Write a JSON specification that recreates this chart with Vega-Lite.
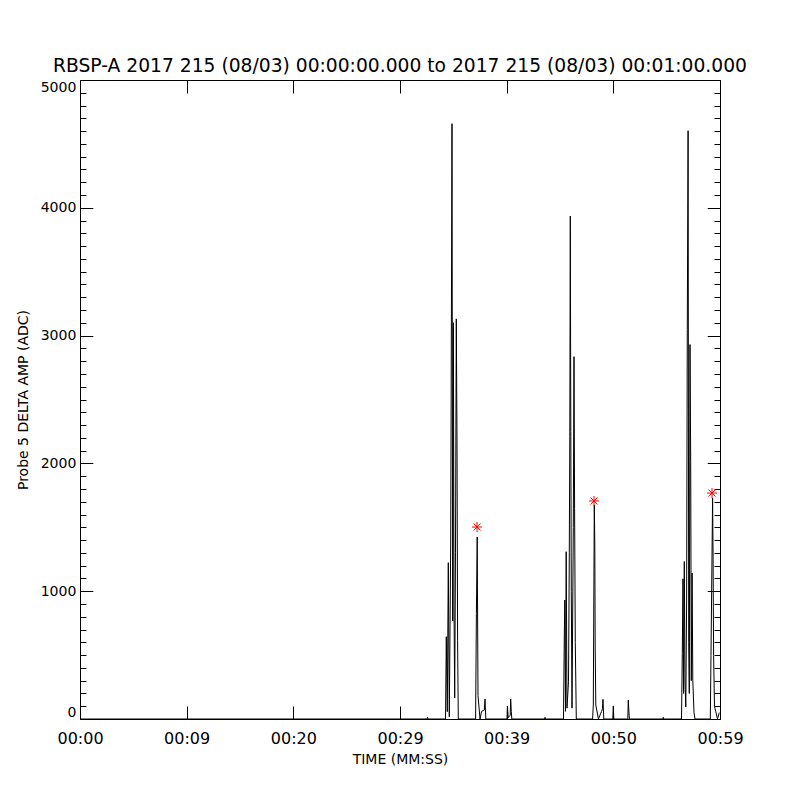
{
  "$schema": "https://vega.github.io/schema/vega-lite/v6.json",
  "width": 640,
  "height": 639,
  "autosize": {"type": "none"},
  "padding": {"left": 80, "top": 80, "right": 80, "bottom": 81},
  "background": "white",
  "config": {
    "view": {"stroke": "black", "strokeWidth": 1},
    "font": "DejaVu Sans",
    "axis": {"labelColor": "black", "titleColor": "black", "tickColor": "black", "tickWidth": 1, "tickRound": true, "labelFont": "DejaVu Sans", "titleFont": "DejaVu Sans", "titleFontWeight": "normal", "grid": false, "domain": false, "zindex": 1}
  },
  "title": {"text": "RBSP-A 2017 215 (08/03) 00:00:00.000 to 2017 215 (08/03) 00:01:00.000", "fontSize": 18.7, "fontWeight": "normal", "font": "DejaVu Sans", "color": "black", "offset": 4, "anchor": "middle"},
  "resolve": {"axis": {"x": "independent", "y": "independent"}},
  "layer": [
    {
      "data": {"values": [
        {"t":0,"v":0},{"t":32.531,"v":0},{"t":32.578,"v":13},{"t":32.625,"v":0},{"t":34.031,"v":0},
        {"t":34.266,"v":0},{"t":34.341,"v":644},{"t":34.434,"v":57},{"t":34.528,"v":1223},{"t":34.622,"v":18},{"t":34.753,"v":1377},{"t":34.875,"v":4658},{"t":34.941,"v":767},{"t":35.006,"v":3101},{"t":35.063,"v":886},{"t":35.128,"v":164},{"t":35.203,"v":1300},{"t":35.278,"v":3131},{"t":35.344,"v":2169},{"t":35.4,"v":612},{"t":35.466,"v":0},
        {"t":37.088,"v":0},{"t":37.163,"v":825},{"t":37.238,"v":1424},{"t":37.313,"v":184},{"t":37.5,"v":0},{"t":37.65,"v":60},{"t":37.903,"v":70},{"t":37.969,"v":156},{"t":38.044,"v":0},
        {"t":40.031,"v":0},{"t":40.069,"v":102},{"t":40.144,"v":10},{"t":40.331,"v":30},{"t":40.378,"v":156},{"t":40.434,"v":60},{"t":40.481,"v":0},
        {"t":43.547,"v":0},{"t":43.594,"v":13},{"t":43.641,"v":0},
        {"t":45.328,"v":0},{"t":45.403,"v":650},{"t":45.45,"v":931},{"t":45.516,"v":60},{"t":45.581,"v":1309},{"t":45.656,"v":85},{"t":45.797,"v":292},{"t":45.872,"v":1300},{"t":45.919,"v":2209},{"t":45.966,"v":3936},{"t":46.013,"v":2248},{"t":46.059,"v":1000},{"t":46.125,"v":85},{"t":46.247,"v":1500},{"t":46.313,"v":2835},{"t":46.369,"v":1649},{"t":46.434,"v":600},{"t":46.528,"v":0},
        {"t":48.056,"v":0},{"t":48.122,"v":110},{"t":48.216,"v":1675},{"t":48.263,"v":1361},{"t":48.3,"v":555},{"t":48.356,"v":110},{"t":48.6,"v":0},{"t":48.9,"v":60},{"t":48.975,"v":80},{"t":49.031,"v":154},{"t":49.106,"v":0},
        {"t":49.95,"v":0},{"t":49.997,"v":102},{"t":50.044,"v":0},
        {"t":51.356,"v":0},{"t":51.403,"v":149},{"t":51.45,"v":70},{"t":51.506,"v":0},
        {"t":54.638,"v":0},{"t":54.684,"v":13},{"t":54.731,"v":0},
        {"t":56.391,"v":0},{"t":56.466,"v":512},{"t":56.531,"v":1097},{"t":56.588,"v":200},{"t":56.653,"v":1232},{"t":56.719,"v":290},{"t":56.794,"v":94},{"t":56.869,"v":900},{"t":56.934,"v":3050},{"t":57.009,"v":4603},{"t":57.066,"v":600},{"t":57.122,"v":200},{"t":57.188,"v":2930},{"t":57.253,"v":2013},{"t":57.309,"v":300},{"t":57.384,"v":1142},{"t":57.45,"v":300},{"t":57.563,"v":50},{"t":57.656,"v":0},
        {"t":59.091,"v":0},{"t":59.156,"v":497},{"t":59.306,"v":1729},{"t":59.353,"v":1247},{"t":59.4,"v":497},{"t":59.484,"v":100},{"t":59.766,"v":0},{"t":59.934,"v":50}
      ]},
      "mark": {"type": "line", "color": "black", "strokeWidth": 1, "clip": true, "interpolate": "linear"},
      "encoding": {
        "x": {"field": "t", "type": "quantitative", "scale": {"domain": [0, 60], "nice": false, "zero": false},
          "axis": {"orient": "bottom", "values": [0, 10, 20, 30, 40, 50, 60], "tickSize": -13, "labelPadding": 24, "labelFlush": false, "labelFontSize": 16, "labelOverlap": false,
            "labelExpr": "datum.value == 0 ? '00:00' : datum.value == 10 ? '00:09' : datum.value == 20 ? '00:20' : datum.value == 30 ? '00:29' : datum.value == 40 ? '00:39' : datum.value == 50 ? '00:50' : '00:59'",
            "title": "TIME (MM:SS)", "titleFontSize": 14, "titlePadding": 6}},
        "y": {"field": "v", "type": "quantitative", "scale": {"domain": [0, 5000], "nice": false},
          "axis": {"orient": "left", "values": [0,100,200,300,400,500,600,700,800,900,1000,1100,1200,1300,1400,1500,1600,1700,1800,1900,2000,2100,2200,2300,2400,2500,2600,2700,2800,2900,3000,3100,3200,3300,3400,3500,3600,3700,3800,3900,4000,4100,4200,4300,4400,4500,4600,4700,4800,4900,5000],
            "tickSize": -12.8, "tickDash": {"condition": {"test": "datum.value % 1000 !== 0", "value": [6, 30]}, "value": []},
            "format": "d", "labelPadding": 17, "labelFontSize": 14, "labelOverlap": false, "labelFlush": true,
            "labelExpr": "datum.value % 1000 === 0 ? datum.label : ''",
            "title": "Probe 5 DELTA AMP (ADC)", "titleFontSize": 14, "titlePadding": 10}}
      }
    },
    {
      "data": {"values": [
        {"t": 37.22, "v": 1502},
        {"t": 48.19, "v": 1706},
        {"t": 59.25, "v": 1768}
      ]},
      "mark": {"type": "point", "shape": "M-1,0L1,0M0,-1L0,1M-0.7,-0.7L0.7,0.7M-0.7,0.7L0.7,-0.7", "stroke": "red", "strokeWidth": 1, "size": 100, "filled": false, "opacity": 1},
      "encoding": {
        "x": {"field": "t", "type": "quantitative", "scale": {"domain": [0, 60], "nice": false, "zero": false},
          "axis": {"orient": "top", "values": [0, 10, 20, 30, 40, 50, 60], "tickSize": -13, "labels": false, "title": null}},
        "y": {"field": "v", "type": "quantitative", "scale": {"domain": [0, 5000], "nice": false},
          "axis": {"orient": "right", "values": [0,100,200,300,400,500,600,700,800,900,1000,1100,1200,1300,1400,1500,1600,1700,1800,1900,2000,2100,2200,2300,2400,2500,2600,2700,2800,2900,3000,3100,3200,3300,3400,3500,3600,3700,3800,3900,4000,4100,4200,4300,4400,4500,4600,4700,4800,4900,5000],
            "tickSize": -12.8, "tickDash": {"condition": {"test": "datum.value % 1000 !== 0", "value": [6, 30]}, "value": []},
            "labels": false, "title": null}}
      }
    }
  ]
}
